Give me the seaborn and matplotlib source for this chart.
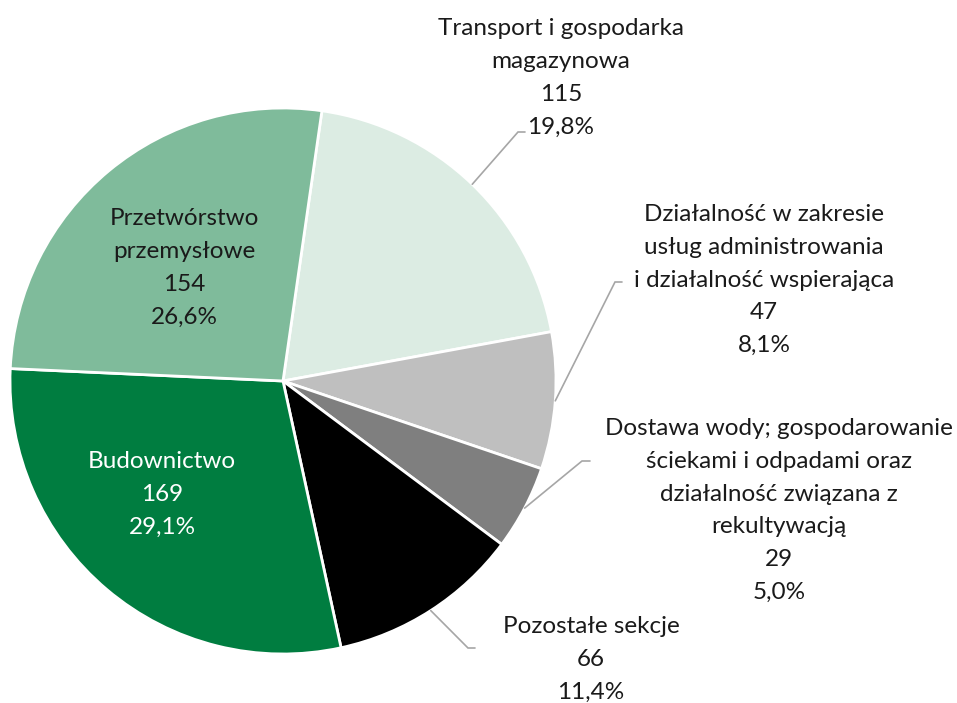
import numpy as np
import matplotlib
matplotlib.use("Agg")
import matplotlib.pyplot as plt
import seaborn as sns

# ---- data ----
categories = [
    "Transport i gospodarka\nmagazynowa",
    "Działalność w zakresie\nusług administrowania\ni działalność wspierająca",
    "Dostawa wody; gospodarowanie\nściekami i odpadami oraz\ndziałalność związana z\nrekultywacją",
    "Pozostałe sekcje",
    "Budownictwo",
    "Przetwórstwo\nprzemysłowe",
]
values = [115, 47, 29, 66, 169, 154]
colors = ["#dcece3", "#bfbfbf", "#7f7f7f", "#000000", "#007d40", "#7fbb9b"]
text_colors = ["#1a1a1a", "#1a1a1a", "#1a1a1a", "#1a1a1a", "#ffffff", "#1a1a1a"]

# label layout (image pixels): centre x, first baseline y, leader elbow (x, y) or None
label_pos = [(561, 35), (764, 221), (779, 435), (591, 633), (162, 468), (184, 225)]
elbows = [(518, 132), (615, 282), (582, 461), (468, 648), None, None]
elbow_end = [(525, 132), (622, 282), (590, 461), (475, 648), None, None]

sns.set_theme(style="white")
plt.rcParams["font.family"] = ["Lato", "DejaVu Sans"]

W, H = 957, 703
fig = plt.figure(figsize=(W / 100, H / 100), dpi=100)
ax = fig.add_axes([0, 0, 1, 1])

cx, cy_img, R = 283, 381, 273
cy = H - cy_img
start = 81.8

wedges, _ = ax.pie(values, colors=colors, startangle=start, counterclock=False,
                   center=(cx, cy), radius=R, frame=True,
                   wedgeprops=dict(edgecolor="white", linewidth=2))
ax.set_xlim(0, W)
ax.set_ylim(0, H)
ax.set_aspect("equal")
ax.axis("off")

total = sum(values)
step = 32.8
for i, (name, v) in enumerate(zip(categories, values)):
    pct = f"{100 * v / total:.1f}%".replace(".", ",")
    lines = name.split("\n") + [str(v), pct]
    x0, y0 = label_pos[i]
    for j, ln in enumerate(lines):
        ax.text(x0, H - (y0 + j * step), ln, ha="center", va="baseline",
                fontsize=17.5, color=text_colors[i])
    if elbows[i] is not None:
        w = wedges[i]
        mid = np.deg2rad((w.theta1 + w.theta2) / 2)
        sx, sy = cx + R * np.cos(mid), cy + R * np.sin(mid)
        ex, ey = elbows[i]
        fx, fy = elbow_end[i]
        ax.plot([sx, ex, fx], [sy, H - ey, H - fy], color="#a6a6a6", lw=1.2,
                solid_joinstyle="miter")

fig.savefig("out.png", dpi=100, facecolor="white")
